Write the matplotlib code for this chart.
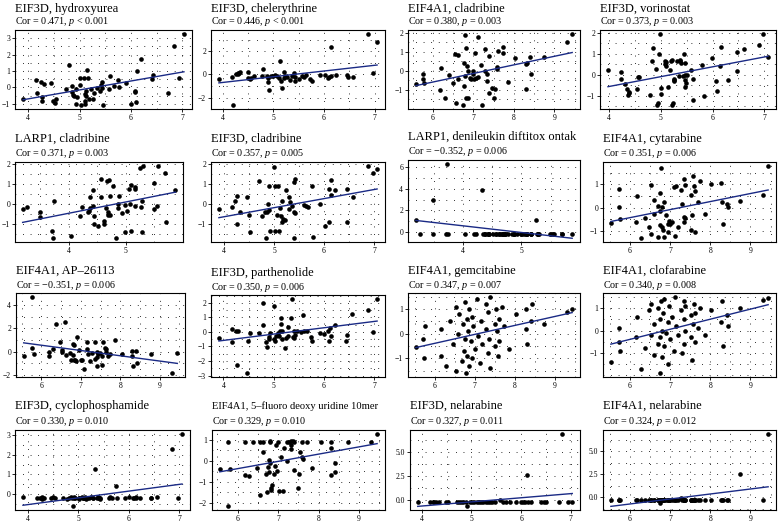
import numpy as np
import matplotlib
matplotlib.use('Agg')
import matplotlib.pyplot as plt
from matplotlib.ticker import AutoMinorLocator

plt.rcParams['font.family'] = ['Liberation Serif', 'DejaVu Serif']
plt.rcParams['mathtext.fontset'] = 'custom'
plt.rcParams['mathtext.rm'] = 'Liberation Serif'
plt.rcParams['mathtext.it'] = 'Liberation Serif:italic'

# ---------------- data ----------------
titles = ["EIF3D, hydroxyurea", "EIF3D, chelerythrine", "EIF4A1, cladribine", "EIF3D, vorinostat",
          "LARP1, cladribine", "EIF3D, cladribine", "LARP1, denileukin diftitox ontak", "EIF4A1, cytarabine",
          "EIF4A1, AP\u201326113", "EIF3D, parthenolide", "EIF4A1, gemcitabine", "EIF4A1, clofarabine",
          "EIF3D, cyclophosphamide", "EIF4A1, 5\u2013fluoro deoxy uridine 10mer", "EIF3D, nelarabine", "EIF4A1, nelarabine"]
cors = ["0.471", "0.446", "0.380", "0.373", "0.371", "0.357", "\u22120.352", "0.351",
        "\u22120.351", "0.350", "0.347", "0.340", "0.330", "0.329", "0.327", "0.324"]
pvals = ["< 0.001", "< 0.001", "= 0.003", "= 0.003", "= 0.003", "= 0.005", "= 0.006", "= 0.006",
         "= 0.006", "= 0.006", "= 0.007", "= 0.008", "= 0.010", "= 0.010", "= 0.011", "= 0.012"]

x1 = [3.90,7.03,6.83,6.93,6.43,6.40,6.71,6.19,6.11,6.08,6.07,6.00,6.10,5.90,5.77,5.75,5.67,5.59,5.58,5.44,5.42,5.44,5.40,5.45,5.33,5.28,5.23,5.19,5.15,5.17,5.13,5.10,5.13,5.08,5.01,5.01,5.03,5.10,5.11,4.95,4.93,4.89,4.86,4.86,4.80,4.73,4.87,4.93,5.27,4.55,4.52,4.48,4.45,4.26,4.27,4.25,4.31,4.16,4.17]
y1 = [-0.68,3.28,2.54,0.60,0.78,0.54,-0.32,1.74,0.98,-0.26,-0.22,-1.00,-0.92,0.26,0.00,0.44,0.10,0.68,-0.10,0.30,0.16,-0.06,-0.20,-1.06,-0.06,-0.34,-0.10,-0.70,1.04,0.58,-0.20,-0.40,-0.52,0.58,0.58,0.14,-1.10,-0.86,-1.00,-0.58,-0.10,-0.50,0.06,-0.26,1.34,-0.10,-0.44,-1.02,-0.70,-0.70,-0.96,-0.82,0.26,-0.60,-0.84,0.34,0.22,0.46,-0.34]

x2 = [3.92,4.19,4.18,4.25,4.29,4.31,4.34,4.30,4.50,4.49,4.53,4.55,4.62,4.79,4.77,4.87,4.89,4.91,4.90,4.95,5.00,5.03,5.07,5.10,5.12,5.17,5.21,5.15,5.20,5.23,5.27,5.32,5.37,5.41,5.43,5.43,5.50,5.57,5.60,5.65,5.73,5.77,5.93,6.01,6.07,6.10,6.13,6.13,6.23,6.45,6.47,6.57,6.87,6.97,7.05]
y2 = [-0.42,-2.68,-0.22,0.00,0.14,0.08,0.20,0.00,0.22,-0.34,-0.36,-0.28,-0.14,0.45,-0.14,-0.14,-0.65,-1.32,-0.34,-0.14,-0.14,-0.08,-0.14,-0.28,1.18,-1.21,0.22,-0.56,-0.34,-0.14,-0.20,-0.50,-0.14,0.14,-0.56,-0.22,-0.36,-0.14,-0.20,-0.08,-0.36,-0.56,-0.08,-0.08,-0.34,-0.22,-0.14,2.39,-0.08,-0.08,-0.20,-0.20,3.52,0.08,2.82]

x3 = [5.58,5.75,5.75,5.78,6.20,6.18,6.30,6.40,6.49,6.55,6.63,6.63,6.57,6.74,6.76,6.79,6.80,6.81,6.78,6.82,6.87,6.85,6.87,6.91,6.94,6.98,6.99,7.02,7.04,7.06,7.12,7.12,7.19,7.22,7.30,7.30,7.34,7.34,7.38,7.38,7.45,7.52,7.53,7.58,7.58,7.62,7.72,7.72,7.86,8.03,8.30,8.32,8.31,8.43,8.41,8.74,9.31,9.44]
y3 = [-0.68,-0.17,-0.43,-0.63,0.12,-1.02,-1.42,-0.22,-0.65,0.90,0.85,-0.45,-1.70,-1.82,0.39,-0.29,1.86,1.18,-0.82,-1.42,-1.42,0.25,0.00,-0.39,-0.43,0.00,-0.17,-0.43,0.94,-0.37,-0.31,1.79,0.32,-1.82,1.13,-0.03,-0.17,-0.56,0.77,-1.19,-0.90,-1.42,-0.94,0.17,0.08,1.06,1.25,0.94,-0.60,0.68,0.34,0.42,-0.94,-0.17,0.72,0.73,1.52,1.95]

x4 = [3.98,4.23,4.23,4.31,4.35,4.36,4.39,4.38,4.55,4.58,4.54,4.79,4.83,4.85,4.90,4.95,4.93,4.96,4.98,5.00,5.00,5.09,5.10,5.09,5.10,5.13,5.17,5.19,5.21,5.21,5.23,5.25,5.26,5.26,5.31,5.37,5.39,5.37,5.35,5.42,5.44,5.46,5.46,5.46,5.48,5.47,5.50,5.58,5.63,5.63,5.80,5.83,5.98,6.06,6.09,6.15,6.17,6.30,6.48,6.48,6.61,6.89,6.97,7.07]
y4 = [0.24,0.11,-0.19,-0.44,-0.71,-0.97,-0.82,-0.89,-0.13,-0.13,-0.71,-0.99,0.66,1.29,0.28,-1.34,-1.47,1.00,1.96,-0.63,-0.94,0.50,0.39,0.66,0.60,-0.60,0.24,0.66,0.71,-1.47,-1.34,-0.24,-0.31,-0.19,0.66,0.66,0.55,0.68,-0.05,-0.08,0.97,0.55,-0.28,-0.58,-0.39,-0.03,0.00,0.24,-0.20,-1.22,0.44,-1.00,0.79,-0.31,-0.79,0.39,1.33,-0.28,0.16,1.10,1.22,1.41,1.93,0.82]

x5 = [3.19,3.27,3.49,3.49,3.71,3.74,3.73,4.03,4.19,4.23,4.33,4.35,4.37,4.37,4.43,4.43,4.44,4.45,4.51,4.57,4.57,4.62,4.62,4.65,4.67,4.69,4.69,4.71,4.72,4.72,4.77,4.83,4.87,4.87,4.88,4.93,4.99,4.99,5.03,5.06,5.07,5.09,5.10,5.16,5.17,5.16,5.25,5.26,5.28,5.28,5.30,5.49,5.50,5.54,5.56,5.69,5.70,5.87]
y5 = [-0.25,-0.15,-0.40,-0.65,-1.37,0.13,-1.73,-1.62,-0.62,-0.17,-0.40,-0.34,-0.20,0.34,-0.12,0.72,-0.99,-0.62,-1.12,1.26,0.34,-0.87,-0.99,-0.20,1.17,-0.40,-0.54,1.22,-0.54,0.39,0.92,-1.73,-0.20,0.00,0.42,-0.45,-1.41,-0.03,-0.37,0.76,0.00,-1.37,0.94,0.77,0.86,-0.12,1.81,-0.17,0.17,-1.41,1.90,-0.25,1.06,-0.08,1.93,1.56,-0.90,0.72]

x6 = [3.90,4.17,4.23,4.27,4.27,4.32,4.46,4.50,4.53,4.70,4.77,4.82,4.85,4.87,4.89,4.91,4.91,4.93,5.01,5.02,5.02,5.07,5.09,5.10,5.12,5.14,5.16,5.16,5.18,5.22,5.25,5.30,5.30,5.33,5.37,5.40,5.41,5.43,5.43,5.41,5.60,5.63,5.67,5.75,5.77,5.92,6.01,6.09,6.10,6.14,6.14,6.22,6.45,6.45,6.57,6.87,6.97,7.06]
y6 = [-0.25,-0.15,0.17,0.42,-0.99,-0.42,0.34,-0.57,-1.41,1.17,-0.62,-0.40,-1.73,-0.40,0.02,0.92,-0.29,-1.37,1.86,0.89,-1.37,-0.57,0.89,-1.37,-0.20,-0.62,0.13,-0.92,-0.74,-0.79,0.72,0.34,-0.25,0.10,-0.12,-0.40,1.09,1.26,-0.45,-1.73,-0.03,-0.12,-0.15,0.92,-1.66,0.02,-1.12,-0.90,0.76,1.19,0.44,0.69,0.77,-0.90,0.34,1.93,1.56,1.78]

x7 = [3.19,3.27,3.49,3.49,3.71,3.74,3.73,4.03,4.19,4.23,4.33,4.35,4.37,4.37,4.43,4.43,4.44,4.45,4.51,4.57,4.57,4.62,4.62,4.65,4.67,4.69,4.69,4.71,4.72,4.72,4.77,4.83,4.87,4.87,4.88,4.93,4.99,4.99,5.03,5.06,5.07,5.09,5.10,5.16,5.17,5.16,5.25,5.26,5.28,5.28,5.30,5.49,5.50,5.54,5.56,5.69,5.70,5.87]
y7 = [1.11,-0.16,2.98,-0.16,-0.16,-0.16,6.35,-0.16,-0.16,-0.16,3.94,-0.16,-0.16,-0.16,-0.16,-0.16,-0.16,-0.16,-0.16,-0.16,-0.16,-0.16,-0.16,-0.16,-0.16,-0.16,-0.16,-0.16,-0.16,-0.16,-0.16,-0.16,-0.16,-0.16,-0.16,-0.16,-0.16,-0.16,-0.16,-0.16,-0.16,-0.16,-0.16,-0.16,-0.16,-0.16,1.11,-0.16,-0.16,-0.16,-0.16,-0.16,-0.16,-0.16,-0.16,-0.16,-0.16,-0.16]

x8 = [5.53,5.72,5.73,5.76,6.15,6.17,6.28,6.38,6.47,6.53,6.53,6.59,6.61,6.69,6.71,6.74,6.76,6.76,6.78,6.81,6.81,6.83,6.86,6.86,6.90,6.94,6.94,6.97,7.01,7.05,7.09,7.13,7.15,7.19,7.28,7.29,7.34,7.34,7.36,7.38,7.38,7.51,7.51,7.54,7.57,7.59,7.61,7.61,7.69,7.74,7.86,8.03,8.28,8.29,8.32,8.42,8.43,8.73,9.30,9.44]
y8 = [-0.67,0.81,0.04,-0.50,-0.64,0.49,-1.33,-0.46,-0.86,-1.14,0.96,0.31,-0.26,0.07,-1.29,-0.17,0.64,-0.76,1.71,0.03,-0.86,-0.97,0.26,-1.29,-0.31,-0.71,-1.07,-0.57,-0.71,-0.64,0.89,-1.21,0.93,-0.83,0.74,0.17,1.24,-0.40,-0.61,0.96,-0.46,0.54,-0.97,-0.31,1.36,0.93,0.71,-1.07,0.24,1.14,-0.29,1.00,1.04,0.24,-0.71,0.14,0.03,0.29,0.53,1.81]

x9 = [5.55,5.75,5.76,5.80,6.19,6.19,6.30,6.38,6.48,6.53,6.53,6.61,6.63,6.73,6.75,6.80,6.83,6.81,6.83,6.85,6.88,6.91,6.96,7.00,7.04,7.07,7.15,7.16,7.18,7.23,7.29,7.35,7.36,7.40,7.41,7.41,7.43,7.49,7.53,7.55,7.57,7.61,7.64,7.65,7.70,7.74,7.86,8.05,8.30,8.31,8.33,8.41,8.42,8.77,9.31,9.45]
y9 = [-0.36,4.71,0.30,-0.21,0.00,-0.36,0.24,2.40,0.84,0.15,-0.06,2.55,-0.30,-0.15,-0.69,0.66,0.60,-0.30,-0.75,-0.69,-0.84,1.26,0.15,-0.69,-0.69,-1.50,0.81,0.24,-0.24,-0.81,-0.15,-0.60,0.84,-0.45,-0.06,-1.20,-0.24,-0.15,-0.39,-1.14,0.81,0.30,0.21,0.00,-0.36,-0.21,0.99,-0.24,0.06,-0.39,-1.20,0.06,-0.99,-0.21,-1.86,-0.09]

x10 = [3.91,4.17,4.17,4.25,4.28,4.30,4.46,4.48,4.53,4.70,4.78,4.78,4.84,4.86,4.90,4.90,4.92,5.01,5.01,5.02,5.04,5.09,5.11,5.12,5.14,5.15,5.16,5.16,5.22,5.24,5.28,5.29,5.35,5.37,5.38,5.40,5.41,5.42,5.46,5.54,5.58,5.61,5.66,5.75,5.77,5.92,6.01,6.08,6.10,6.12,6.14,6.22,6.44,6.47,6.57,6.87,6.97,7.06]
y10 = [-0.42,0.23,-0.66,0.05,-2.30,0.09,-2.84,-0.59,-0.07,-0.07,0.45,1.97,-0.70,-1.01,-0.35,-0.47,-0.07,1.76,-0.47,-0.59,-0.31,-0.07,-0.31,0.09,0.94,0.52,0.05,-0.47,-1.08,-0.42,-0.31,0.33,0.99,2.28,-0.35,0.09,-0.42,-0.19,0.05,-0.02,1.17,0.05,0.05,-0.35,-0.59,-0.07,-0.12,0.05,-0.59,0.28,-0.31,0.47,-0.59,-0.23,1.22,1.53,0.00,2.28]

x11 = [5.53,5.72,5.73,5.76,6.15,6.17,6.28,6.38,6.47,6.53,6.53,6.59,6.61,6.69,6.71,6.74,6.76,6.76,6.78,6.81,6.81,6.83,6.86,6.86,6.90,6.94,6.94,6.97,7.01,7.05,7.09,7.13,7.15,7.19,7.28,7.29,7.34,7.34,7.36,7.38,7.38,7.51,7.51,7.54,7.57,7.59,7.61,7.61,7.69,7.74,7.86,8.03,8.28,8.29,8.32,8.42,8.43,8.73,9.30,9.44]
y11 = [-0.55,-0.20,-1.00,0.30,-0.90,0.20,-1.30,0.50,-0.40,1.10,-1.50,0.00,0.80,-1.10,0.40,-0.70,1.30,-0.20,-1.60,0.60,-0.90,0.10,1.00,-1.30,-0.30,0.70,-1.00,0.30,-0.60,1.40,-0.10,-1.20,0.50,-0.40,1.20,0.20,-0.80,0.90,-0.20,1.50,-1.40,0.40,-0.50,1.00,0.10,-0.90,0.60,-0.30,1.10,0.30,-0.60,0.80,0.20,1.00,-0.40,0.50,1.20,0.40,0.90,1.00]

x12 = [5.53,5.72,5.73,5.76,6.15,6.17,6.28,6.38,6.47,6.53,6.53,6.59,6.61,6.69,6.71,6.74,6.76,6.76,6.78,6.81,6.81,6.83,6.86,6.86,6.90,6.94,6.94,6.97,7.01,7.05,7.09,7.13,7.15,7.19,7.28,7.29,7.34,7.34,7.36,7.38,7.38,7.51,7.51,7.54,7.57,7.59,7.61,7.61,7.69,7.74,7.86,8.03,8.28,8.29,8.32,8.42,8.43,8.73,9.30,9.44]
y12 = [-1.40,0.10,-0.50,-0.90,-0.30,0.60,-1.70,-0.80,0.90,-0.20,1.20,-1.10,0.30,-0.60,1.00,-1.90,0.50,-0.30,1.30,-1.20,0.00,0.80,-0.70,1.40,-0.10,0.40,-1.50,1.10,-0.40,0.60,-0.90,1.50,0.20,-0.20,0.90,-1.00,1.30,0.50,-0.60,0.00,1.10,-0.30,0.70,-1.30,0.30,1.20,-0.50,0.80,0.10,1.00,-0.20,0.90,0.40,1.30,-0.70,0.70,0.20,1.00,1.35,1.45]

x13 = [3.90,4.17,4.23,4.27,4.27,4.32,4.46,4.50,4.53,4.70,4.77,4.82,4.85,4.87,4.89,4.91,4.91,4.93,5.01,5.02,5.02,5.07,5.09,5.10,5.12,5.14,5.16,5.16,5.18,5.22,5.25,5.30,5.30,5.33,5.37,5.40,5.41,5.43,5.43,5.41,5.60,5.63,5.67,5.75,5.77,5.92,6.01,6.09,6.10,6.14,6.14,6.22,6.45,6.45,6.57,6.87,6.97,7.06]
y13 = [-0.15,-0.20,-0.20,-0.15,-0.25,-0.20,-0.20,-0.15,-0.20,-0.20,-0.25,-0.20,-0.15,-0.20,-0.60,-0.20,-0.15,-0.20,-0.20,-0.25,-0.20,-0.15,-0.20,-0.20,-0.20,-0.15,-0.20,-0.25,-0.20,-0.20,-0.15,-0.20,-0.20,1.30,-0.20,-0.15,-0.20,-0.20,-0.25,-0.20,-0.20,-0.15,-0.20,0.40,-0.20,-0.20,-0.15,-0.20,-0.20,-0.20,-0.15,-0.20,-0.20,-0.20,-0.15,2.30,-0.20,3.05]

x14 = [5.56,5.75,5.77,5.81,6.18,6.18,6.29,6.39,6.47,6.55,6.55,6.63,6.62,6.71,6.73,6.75,6.77,6.77,6.79,6.79,6.81,6.82,6.83,6.86,6.90,6.93,6.96,6.98,7.00,7.02,7.06,7.12,7.14,7.21,7.23,7.28,7.32,7.33,7.33,7.36,7.39,7.39,7.50,7.51,7.55,7.59,7.60,7.61,7.72,7.84,8.05,8.30,8.30,8.32,8.42,8.42,8.73,9.30,9.45]
y14 = [-0.39,0.89,-2.16,-0.39,0.89,-0.66,-0.73,0.89,-0.36,0.89,-1.61,0.89,0.42,-0.63,-1.48,-0.28,0.03,-0.52,0.94,0.89,-0.13,-1.30,-1.38,-1.17,-0.63,-0.23,0.73,-0.47,0.89,-1.44,0.19,-1.41,0.59,0.89,0.00,0.89,0.94,0.73,0.55,0.94,0.89,-0.44,-1.30,-0.63,0.39,0.16,0.89,0.08,0.89,-0.36,0.89,0.89,0.59,-0.67,-0.55,-0.13,0.89,0.89,1.28]

x15 = [3.92,4.17,4.22,4.25,4.29,4.34,4.48,4.52,4.71,4.76,4.79,4.84,4.89,4.92,4.97,5.02,5.06,5.11,5.15,5.19,5.24,5.29,5.34,5.38,5.41,5.48,5.57,5.63,5.69,5.77,5.90,6.00,6.03,6.08,6.13,6.20,6.41,6.46,6.50,6.77,6.95,7.03,6.12,6.83]
y15 = [-0.28,-0.28,-0.28,-0.28,-0.28,-0.28,-0.28,-0.28,-0.28,-0.28,-0.28,-0.28,-0.28,-0.70,-0.28,-0.28,-0.28,-0.28,-0.28,-0.28,-0.28,-0.28,-0.28,-0.28,-0.28,-0.28,-0.07,-0.28,-0.28,-0.28,-0.28,-0.28,-0.28,-0.28,-0.28,-0.28,-0.28,-0.28,-0.28,-0.28,-0.28,-0.28,2.57,6.94]

x16 = [5.53,5.72,5.73,5.76,6.15,6.17,6.28,6.38,6.47,6.53,6.53,6.59,6.61,6.69,6.71,6.74,6.76,6.76,6.78,6.81,6.81,6.83,6.86,6.86,6.90,6.94,6.94,6.97,7.01,7.05,7.09,7.13,7.15,7.19,7.28,7.29,7.34,7.34,7.36,7.38,7.38,7.51,7.51,7.54,7.57,7.59,7.61,7.61,7.69,7.74,7.86,8.03,8.28,8.29,8.32,8.42,8.43,8.73,9.30,9.44]
y16 = [-0.28,-0.28,-0.28,-0.28,-0.28,-0.28,-0.28,-0.28,-0.28,-0.28,-0.28,-0.28,-0.28,-0.28,-0.28,-0.70,-0.28,-0.28,-0.28,-0.28,-0.28,-0.28,-0.28,-0.28,-0.28,-0.28,-0.28,-0.28,-0.28,-0.28,-0.28,-0.28,-0.28,-0.28,-0.07,-0.28,-0.28,-0.28,-0.28,-0.28,-0.28,-0.28,-0.28,-0.28,-0.28,-0.28,-0.28,-0.28,-0.28,-0.28,-0.28,-0.28,-0.28,-0.28,-0.28,-0.28,-0.28,2.57,-0.28,6.94]

xs_all = [x1, x2, x3, x4, x5, x6, x7, x8, x9, x10, x11, x12, x13, x14, x15, x16]
ys_all = [y1, y2, y3, y4, y5, y6, y7, y8, y9, y10, y11, y12, y13, y14, y15, y16]

xticks_all = [[4,5,6,7],[4,5,6,7],[6,7,8,9],[4,5,6,7],
              [4,5],[4,5,6,7],[4,5],[6,7,8,9],
              [6,7,8,9],[4,5,6,7],[6,7,8,9],[6,7,8,9],
              [4,5,6,7],[6,7,8,9],[4,5,6,7],[6,7,8,9]]
yticks_all = [[-1,0,1,2,3],[-2,0,2],[-1,0,1,2],[-1,0,1,2],
              [-1,0,1,2],[-1,0,1,2],[0,2,4,6],[-1,0,1],
              [-2,0,2,4],[-3,-2,-1,0,1,2],[-1,0,1],[-1,0,1],
              [0,1,2,3],[-2,-1,0,1],[0.0,2.5,5.0],[0.0,2.5,5.0]]

# ---------------- layout (pixels: left, right, top, bottom) ----------------
W, H = 778, 522
boxes = [(15,192,30,109),(211,385,30,109),(408,580,30,109),(600,776,30,109),
         (15,183,162,242),(211,385,162,242),(408,580,160,242),(603,776,162,242),
         (16,185,293,377),(211,385,295,377),(408,580,293,377),(603,776,293,377),
         (15,190,430,510),(212,385,430,510),(410,580,430,510),(603,776,430,510)]
title_off = [18, 20, 19, 21]
sub_off = [6, 6, 5, 6]
title_size = [9, 9, 9, 9, 9, 9, 9, 9, 9, 9, 9, 9, 9, 7.6, 9, 9]

fig = plt.figure(figsize=(W/100, H/100), dpi=100)
line_color = '#1a2a85'

for i in range(16):
    l, r, t, b = boxes[i]
    row = i // 4
    ax = fig.add_axes([l/W, 1 - b/H, (r-l)/W, (b-t)/H])
    x = np.array(xs_all[i]); y = np.array(ys_all[i])
    n = min(len(x), len(y)); x = x[:n]; y = y[:n]
    ax.scatter(x, y, s=11, color='black', linewidths=0, zorder=3)
    coef = np.polyfit(x, y, 1)
    xl = np.array([x.min(), x.max()])
    ax.plot(xl, np.polyval(coef, xl), color=line_color, lw=1.0, zorder=4)
    ax.margins(0.05)
    ax.set_xticks(xticks_all[i])
    ax.set_yticks(yticks_all[i])
    ax.xaxis.set_minor_locator(AutoMinorLocator(2))
    ax.yaxis.set_minor_locator(AutoMinorLocator(2))
    ax.grid(which='both', color='black', linestyle=(0, (0.8, 7)), linewidth=0.7)
    ax.set_axisbelow(True)
    ax.tick_params(which='major', labelsize=5.5, length=2, width=0.6, pad=1.5, colors='black')
    ax.tick_params(which='minor', length=0)
    for s in ax.spines.values():
        s.set_linewidth(0.8)
    h = b - t
    ax.text(0.0, 1 + title_off[row]/h, titles[i], transform=ax.transAxes,
            fontsize=title_size[i], ha='left', va='baseline')
    ax.text(0.0, 1 + sub_off[row]/h, "Cor = " + cors[i] + ", $p$ " + pvals[i], transform=ax.transAxes,
            fontsize=7.3, ha='left', va='baseline')

fig.savefig('out.png', dpi=100)
